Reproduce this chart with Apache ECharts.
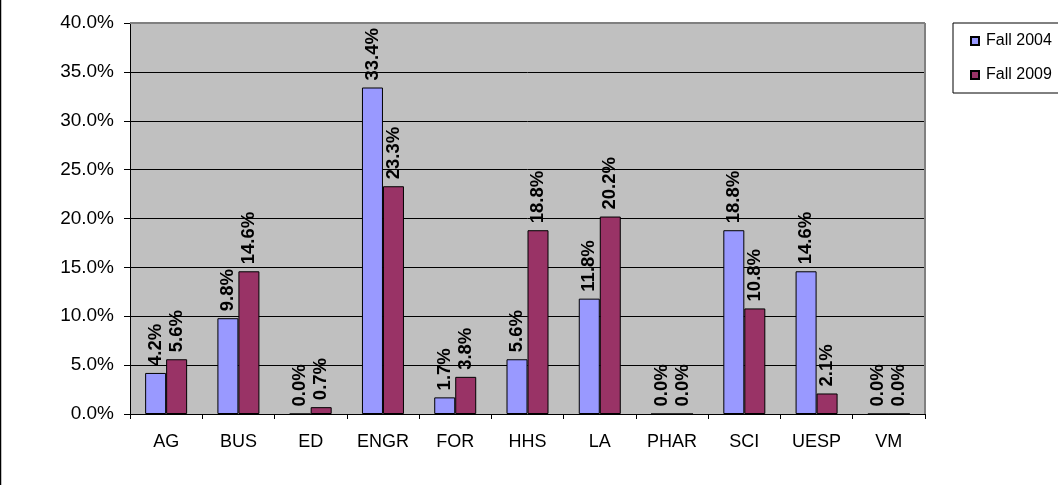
<!DOCTYPE html>
<html>
<head>
<meta charset="utf-8">
<script src="https://cdn.jsdelivr.net/npm/echarts@6/dist/echarts.min.js"></script>
<style>
html,body{margin:0;padding:0;background:#fff;}
#c{width:1058px;height:485px;}
</style>
</head>
<body>
<div id="c"></div>
<script>
const categories = ['AG','BUS','ED','ENGR','FOR','HHS','LA','PHAR','SCI','UESP','VM'];
const fall2004 = [4.2, 9.8, 0.0, 33.4, 1.7, 5.6, 11.8, 0.0, 18.8, 14.6, 0.0];
const fall2009 = [5.6, 14.6, 0.7, 23.3, 3.8, 18.8, 20.2, 0.0, 10.8, 2.1, 0.0];
const seriesNames = ['Fall 2004', 'Fall 2009'];
const yMin = 0, yMax = 40, yStep = 5;

const FONT = '"Liberation Sans", Arial, sans-serif';
const chart = echarts.init(document.getElementById('c'), null, {renderer:'canvas'});

const labelCfg = {
  show: true,
  position: 'top',
  rotate: 90,
  align: 'left',
  verticalAlign: 'middle',
  distance: 7,
  fontFamily: FONT,
  fontSize: 18.5,
  fontWeight: 'bold',
  color: '#000',
  formatter: p => p.value.toFixed(1) + '%'
};

chart.setOption({
  animation: false,
  backgroundColor: '#fff',
  textStyle: {fontFamily: FONT},
  grid: {
    left: 130, right: 133, top: 23, bottom: 71,
    show: true, backgroundColor: '#C0C0C0', borderWidth: 0
  },
  legend: {
    orient: 'vertical',
    left: 953, top: 23,
    padding: [10, 7, 10, 17],
    itemGap: 18,
    itemWidth: 8, itemHeight: 8,
    icon: 'rect',
    borderColor: '#000', borderWidth: 1,
    backgroundColor: '#fff',
    textStyle: {fontFamily: FONT, fontSize: 16, color: '#000', padding: [0,0,0,2]},
    data: seriesNames
  },
  xAxis: {
    type: 'category',
    data: categories,
    axisLine: {lineStyle: {color: '#000', width: 1}},
    axisTick: {show: true, length: 5, lineStyle: {color: '#000'}},
    axisLabel: {fontFamily: FONT, fontSize: 18, color: '#000', margin: 19}
  },
  yAxis: {
    type: 'value',
    min: yMin, max: yMax, interval: yStep,
    axisLine: {show: true, lineStyle: {color: '#000', width: 1}},
    axisTick: {show: true, length: 6, lineStyle: {color: '#000'}},
    axisLabel: {fontFamily: FONT, fontSize: 19, color: '#000', margin: 16,
      formatter: v => v.toFixed(1) + '%'},
    splitLine: {show: true, lineStyle: {color: '#000', width: 1}}
  },
  series: [
    {
      name: seriesNames[0], type: 'bar', data: fall2004,
      barWidth: 21, barGap: '0%',
      itemStyle: {color: '#9999FF', borderColor: '#000', borderWidth: 1},
      label: labelCfg
    },
    {
      name: seriesNames[1], type: 'bar', data: fall2009,
      barWidth: 21, barGap: '0%',
      itemStyle: {color: '#993366', borderColor: '#000', borderWidth: 1},
      label: labelCfg
    }
  ],
  graphic: [
    {type: 'line', z: 100, shape: {x1: 130, y1: 23, x2: 925, y2: 23}, style: {stroke: '#808080', lineWidth: 2}},
    {type: 'line', z: 100, shape: {x1: 925, y1: 23, x2: 925, y2: 414}, style: {stroke: '#808080', lineWidth: 2}},
    {type: 'line', z: 100, shape: {x1: 0.5, y1: 0, x2: 0.5, y2: 485}, style: {stroke: '#000', lineWidth: 1.5}}
  ]
});
</script>
</body>
</html>
